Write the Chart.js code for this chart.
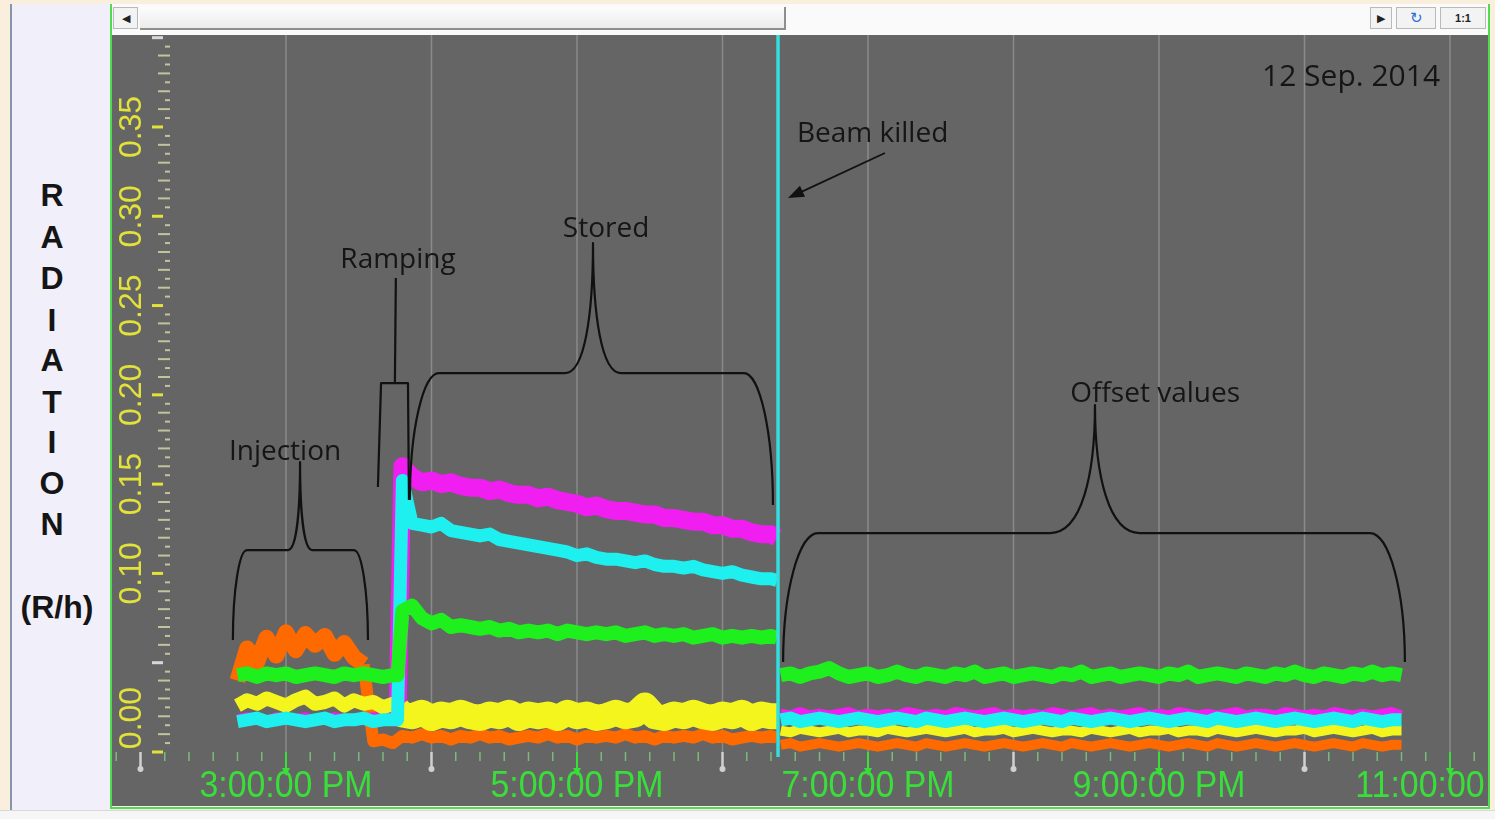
<!DOCTYPE html>
<html>
<head>
<meta charset="utf-8">
<script src="https://cdn.jsdelivr.net/npm/chart.js@4.4.1/dist/chart.umd.min.js"></script>
<style>
    html, body { margin: 0; padding: 0; }
    body { width: 1495px; height: 819px; background: #f9efdc; position: relative; overflow: hidden; font-family: "Liberation Sans", Arial, sans-serif; }
    #side { position: absolute; left: 10px; top: 4px; width: 100px; height: 808px; background: #f1effa; border-left: 2px solid #8796aa; box-sizing: border-box; }
    .letter { position: absolute; left: 12px; width: 80px; text-align: center; font-weight: bold; font-size: 32px; line-height: 32px; color: #151515; }
    #win { position: absolute; left: 110px; top: 4px; width: 1380px; height: 805px; border: 2px solid #4fdc4f; border-top: none; box-sizing: border-box; background: #fbfbfb; }
    #topbar { position: absolute; left: 0; top: 0; width: 1376px; height: 31px; background: #fafafa; }
    .btn { position: absolute; top: 3px; height: 22px; border: 1px solid #b9b9b9; background: #f3f3f3; box-sizing: border-box; font-size: 11px; line-height: 20px; text-align: center; color: #222; }
    #thumb { position: absolute; left: 28px; top: 3px; width: 646px; height: 23px; background: linear-gradient(#fdfdfd, #ebebeb); border-bottom: 2px solid #8e8e8e; border-right: 2px solid #8e8e8e; box-sizing: border-box; }
    #chart { position: absolute; left: 0; top: 31px; }
    #bottom { position: absolute; left: 0; top: 810px; width: 1495px; height: 9px; background: #f6f6f6; border-top: 1px solid #d8d8d8; }
</style>
</head>
<body>
<div id="side"></div>
<div class="letter" style="top:179px">R</div>
<div class="letter" style="top:221px">A</div>
<div class="letter" style="top:262px">D</div>
<div class="letter" style="top:304px">I</div>
<div class="letter" style="top:344px">A</div>
<div class="letter" style="top:386px">T</div>
<div class="letter" style="top:426px">I</div>
<div class="letter" style="top:467px">O</div>
<div class="letter" style="top:508px">N</div>
<div class="letter" style="top:591px; left:12px; width:90px">(R/h)</div>

<div id="win">
    <div id="topbar">
        <div class="btn" style="left:1px; width:25px">&#9664;</div>
        <div id="thumb"></div>
        <div class="btn" style="left:1258px; width:22px">&#9654;</div>
        <div class="btn" style="left:1284px; width:40px; color:#2a6fd6; font-size:15px">&#8635;</div>
        <div class="btn" style="left:1328px; width:46px; font-weight:bold">1:1</div>
    </div>
    <canvas id="chart" width="1376" height="771"></canvas>
</div>
<div id="bottom"></div>

<script>
// sample times, minutes after 12:00 noon (14:40 .. 22:40); 383 is the gap at the beam kill
const sampleMinutes = [
    160, 164, 168, 172, 176, 180, 184, 188, 192, 196, 200, 204, 208, 212, 216, 220, 224,
    226,
    228, 232, 236, 240, 244, 248, 252, 256, 260, 264, 268, 272, 276, 280, 284, 288, 292, 296, 300,
    304, 308, 312, 316, 320, 324, 328, 332, 336, 340, 344, 348, 352, 356, 360, 364, 368, 372, 376, 380,
    382.5, 383,
    384, 388, 392, 396, 400, 404, 408, 412, 416, 420, 424, 428, 432, 436, 440, 444, 448, 452, 456, 460,
    464, 468, 472, 476, 480, 484, 488, 492, 496, 500, 504, 508, 512, 516, 520, 524, 528, 532, 536, 540,
    544, 548, 552, 556, 560, 564, 568, 572, 576, 580, 584, 588, 592, 596, 600, 604, 608, 612, 616, 620,
    624, 628, 632, 636, 640
];

// radiation, R/h
const greenValues = [
    0.043, 0.044, 0.042, 0.044, 0.043, 0.044, 0.042, 0.043, 0.044, 0.043, 0.042, 0.044, 0.043, 0.044, 0.043, 0.042, 0.043,
    0.043,
    0.079, 0.082, 0.075, 0.072, 0.074, 0.070, 0.071, 0.070, 0.069, 0.070, 0.068, 0.069, 0.067, 0.068, 0.067, 0.068, 0.066, 0.068, 0.067,
    0.066, 0.067, 0.066, 0.067, 0.065, 0.066, 0.067, 0.065, 0.066, 0.065, 0.066, 0.064, 0.065, 0.066, 0.064, 0.065, 0.064, 0.065, 0.064, 0.065,
    0.064, null,
    0.043, 0.044, 0.042, 0.044, 0.045, 0.047, 0.044, 0.042, 0.043, 0.044, 0.042, 0.043, 0.045, 0.043, 0.042, 0.044, 0.043, 0.042, 0.044, 0.043,
    0.045, 0.042, 0.043, 0.044, 0.042, 0.043, 0.044, 0.043, 0.042, 0.044, 0.043, 0.045, 0.042, 0.043, 0.044, 0.042, 0.043, 0.044, 0.043, 0.042,
    0.044, 0.043, 0.045, 0.042, 0.043, 0.044, 0.043, 0.042, 0.044, 0.043, 0.042, 0.044, 0.043, 0.045, 0.043, 0.042, 0.044, 0.043, 0.042, 0.044,
    0.043, 0.045, 0.043, 0.044, 0.043
];
const cyanValues = [
    0.017, 0.018, 0.019, 0.017, 0.018, 0.019, 0.018, 0.017, 0.018, 0.019, 0.017, 0.018, 0.018, 0.019, 0.017, 0.018, 0.018,
    0.018,
    0.152, 0.128, 0.127, 0.126, 0.128, 0.124, 0.123, 0.122, 0.121, 0.122, 0.119, 0.118, 0.117, 0.116, 0.115, 0.114, 0.113, 0.112, 0.110,
    0.111, 0.109, 0.108, 0.108, 0.107, 0.106, 0.107, 0.105, 0.104, 0.104, 0.103, 0.104, 0.102, 0.101, 0.100, 0.101, 0.099, 0.098, 0.097, 0.097,
    0.096, null,
    0.018, 0.019, 0.017, 0.018, 0.019, 0.018, 0.017, 0.018, 0.019, 0.018, 0.017, 0.018, 0.019, 0.018, 0.017, 0.019, 0.018, 0.017, 0.018, 0.019,
    0.018, 0.017, 0.018, 0.019, 0.018, 0.017, 0.018, 0.019, 0.018, 0.017, 0.019, 0.018, 0.017, 0.018, 0.019, 0.018, 0.017, 0.018, 0.019, 0.018,
    0.017, 0.018, 0.019, 0.018, 0.017, 0.019, 0.018, 0.017, 0.018, 0.019, 0.018, 0.017, 0.018, 0.019, 0.018, 0.017, 0.018, 0.019, 0.018, 0.017,
    0.019, 0.018, 0.017, 0.018, 0.018
];
const magentaValues = [
    0.019, 0.020, 0.019, 0.018, 0.020, 0.019, 0.019, 0.020, 0.018, 0.019, 0.020, 0.019, 0.018, 0.019, 0.020, 0.019, 0.019,
    0.019,
    0.160, 0.154, 0.151, 0.152, 0.150, 0.151, 0.149, 0.148, 0.148, 0.146, 0.147, 0.145, 0.144, 0.144, 0.142, 0.143, 0.141, 0.140, 0.139,
    0.137, 0.138, 0.136, 0.135, 0.135, 0.134, 0.133, 0.133, 0.131, 0.131, 0.130, 0.129, 0.129, 0.127, 0.127, 0.125, 0.125, 0.123, 0.122, 0.122,
    0.120, null,
    0.022, 0.021, 0.023, 0.021, 0.022, 0.021, 0.022, 0.023, 0.021, 0.022, 0.021, 0.022, 0.021, 0.023, 0.022, 0.021, 0.022, 0.021, 0.023, 0.022,
    0.021, 0.022, 0.023, 0.021, 0.022, 0.021, 0.022, 0.021, 0.023, 0.022, 0.021, 0.022, 0.023, 0.021, 0.022, 0.021, 0.022, 0.023, 0.021, 0.022,
    0.021, 0.023, 0.022, 0.021, 0.022, 0.021, 0.022, 0.023, 0.021, 0.022, 0.022, 0.021, 0.023, 0.022, 0.021, 0.022, 0.021, 0.023, 0.022, 0.021,
    0.022, 0.021, 0.022, 0.023, 0.021
];
const yellowValues = [
    0.026, 0.029, 0.027, 0.030, 0.028, 0.026, 0.029, 0.031, 0.027, 0.028, 0.030, 0.026, 0.029, 0.027, 0.028, 0.025, 0.027,
    0.024,
    0.021, 0.020, 0.022, 0.019, 0.021, 0.020, 0.022, 0.020, 0.019, 0.021, 0.020, 0.022, 0.019, 0.021, 0.020, 0.021, 0.019, 0.022, 0.020,
    0.021, 0.019, 0.020, 0.022, 0.020, 0.021, 0.026, 0.020, 0.019, 0.021, 0.020, 0.022, 0.020, 0.019, 0.021, 0.020, 0.022, 0.019, 0.021, 0.020,
    0.020, null,
    0.012, 0.011, 0.013, 0.012, 0.011, 0.012, 0.013, 0.011, 0.012, 0.012, 0.011, 0.013, 0.012, 0.011, 0.012, 0.013, 0.012, 0.011, 0.012, 0.013,
    0.011, 0.012, 0.012, 0.013, 0.011, 0.012, 0.013, 0.012, 0.011, 0.012, 0.012, 0.011, 0.013, 0.012, 0.011, 0.012, 0.013, 0.011, 0.012, 0.012,
    0.013, 0.011, 0.012, 0.012, 0.011, 0.013, 0.012, 0.011, 0.012, 0.013, 0.012, 0.011, 0.012, 0.012, 0.013, 0.011, 0.012, 0.013, 0.012, 0.011,
    0.012, 0.013, 0.011, 0.012, 0.012
];
const orangeValues = [
    0.040, 0.058, 0.050, 0.064, 0.054, 0.067, 0.057, 0.066, 0.060, 0.065, 0.055, 0.061, 0.053, 0.049, 0.006, 0.007, 0.005,
    0.007,
    0.009, 0.008, 0.010, 0.008, 0.009, 0.007, 0.009, 0.008, 0.010, 0.008, 0.009, 0.007, 0.008, 0.009, 0.008, 0.010, 0.008, 0.009, 0.007,
    0.009, 0.008, 0.009, 0.008, 0.010, 0.008, 0.009, 0.007, 0.009, 0.008, 0.009, 0.008, 0.010, 0.008, 0.009, 0.007, 0.008, 0.009, 0.008, 0.009,
    0.008, null,
    0.004, 0.005, 0.003, 0.004, 0.005, 0.004, 0.003, 0.004, 0.005, 0.004, 0.003, 0.004, 0.005, 0.004, 0.003, 0.005, 0.004, 0.003, 0.004, 0.005,
    0.004, 0.003, 0.004, 0.005, 0.004, 0.003, 0.004, 0.005, 0.004, 0.003, 0.005, 0.004, 0.003, 0.004, 0.005, 0.004, 0.003, 0.004, 0.005, 0.004,
    0.003, 0.004, 0.005, 0.004, 0.003, 0.005, 0.004, 0.003, 0.004, 0.005, 0.004, 0.003, 0.004, 0.005, 0.004, 0.003, 0.004, 0.005, 0.004, 0.003,
    0.005, 0.004, 0.003, 0.004, 0.004
];

const cursorMinute = 382.9; // beam killed
const xRange = [108.25, 675.67];
const yRange = [-0.0028, 0.4015];
const xTickHours = [15, 17, 19, 21, 23];
const xTickLabels = ['3:00:00 PM', '5:00:00 PM', '7:00:00 PM', '9:00:00 PM', '11:00:00 PM'];
const yTickValues = [0, 0.10, 0.15, 0.20, 0.25, 0.30, 0.35];
const yTickLabels = ['0.00', '0.10', '0.15', '0.20', '0.25', '0.30', '0.35'];

// annotations, in data units (minutes, R/h)
const braces = [
    { left: 158.1, right: 213.8, mid: 185.8, bar: 0.1131, peak: 0.1624, footL: 0.0627, footR: 0.0627, arm: 5.8, cusp: 5 },
    { left: 231.1, right: 380.8, mid: 306.6, bar: 0.2122, peak: 0.2850, footL: 0.1411, footR: 0.1383, arm: 12, cusp: 11.5 },
    { left: 385.0, right: 641.4, mid: 513.6, bar: 0.1226, peak: 0.1943, footL: 0.0504, footR: 0.0504, arm: 14.4, cusp: 18.5 }
];
const rampBracket = [[217.9, 0.1484], [219.2, 0.2066], [230.3, 0.2066], [230.7, 0.1411]];
const rampStem = [[224.9, 0.2066], [225.3, 0.2654]];
const beamArrow = [[427.0, 0.3354], [387.0, 0.3102]];
const notes = [
    { text: 'Injection', x: 179.6, y: 0.168, align: 'center', size: 28 },
    { text: 'Ramping', x: 226.2, y: 0.2755, align: 'center', size: 28 },
    { text: 'Stored', x: 312.0, y: 0.2928, align: 'center', size: 28 },
    { text: 'Beam killed', x: 390.7, y: 0.346, align: 'left', size: 28 },
    { text: 'Offset values', x: 538.4, y: 0.2004, align: 'center', size: 28 },
    { text: '12 Sep. 2014', x: 655.9, y: 0.378, align: 'right', size: 30 }
];

const toPoints = (vals) => sampleMinutes.map((m, i) => ({ x: m, y: vals[i] }));

// band thickness differs between injection / stored / offset phases
const widthByPhase = (injEnd, inj, stored, post) => (ctx) => {
    const t = ctx.p1.parsed.x;
    return t <= injEnd ? inj : t <= 383 ? stored : post;
};

const trendAxes = {
    id: 'trendAxes',
    beforeDraw(chart) {
        const { ctx, chartArea, scales: { x, y } } = chart;
        ctx.save();
        ctx.fillStyle = '#656565';
        ctx.fillRect(0, 0, chart.width, chart.height);

        // hourly grid
        ctx.strokeStyle = '#8a8a8a';
        ctx.lineWidth = 1.5;
        for (let h = 15; h <= 23; h++) {
            const px = x.getPixelForValue((h - 12) * 60);
            ctx.beginPath();
            ctx.moveTo(px, chartArea.top);
            ctx.lineTo(px, chartArea.bottom - 4);
            ctx.stroke();
        }

        // y ticks
        for (let k = 0; k <= 80; k++) {
            const py = y.getPixelForValue(k * 0.005);
            ctx.beginPath();
            if (k % 10 === 0) {
                const labelled = yTickValues.some(v => Math.abs(v - k * 0.005) < 1e-6);
                ctx.strokeStyle = labelled ? '#e2e23a' : '#d8d8d8';
                ctx.lineWidth = 3;
                ctx.moveTo(40, py);
                ctx.lineTo(51, py);
            } else {
                ctx.strokeStyle = '#c4c49a';
                ctx.lineWidth = 2;
                ctx.moveTo(k % 2 === 0 ? 46 : 53, py);
                ctx.lineTo(58, py);
            }
            ctx.stroke();
        }

        ctx.fillStyle = '#e2e23a';
        ctx.font = '32px "Liberation Sans", Arial, sans-serif';
        ctx.textAlign = 'center';
        ctx.textBaseline = 'middle';
        yTickValues.forEach((v, i) => {
            const py = Math.min(y.getPixelForValue(v), chartArea.bottom - 39);
            ctx.save();
            ctx.translate(20, py);
            ctx.rotate(-Math.PI / 2);
            ctx.fillText(yTickLabels[i], 0, 0);
            ctx.restore();
        });
        ctx.restore();
    },
    afterDatasetsDraw(chart) {
        const { ctx, scales: { x, y } } = chart;
        const P = (t, v) => [x.getPixelForValue(t), y.getPixelForValue(v)];
        const pxPerMin = x.getPixelForValue(1) - x.getPixelForValue(0);
        ctx.save();
        ctx.strokeStyle = '#111';
        ctx.fillStyle = '#111';
        ctx.lineWidth = 2.2;
        ctx.lineJoin = 'round';

        braces.forEach(b => {
            const [xl, yl] = P(b.left, b.footL);
            const [xr, yr] = P(b.right, b.footR);
            const [xm, yb] = P(b.mid, b.bar);
            const yp = y.getPixelForValue(b.peak);
            const arm = b.arm * pxPerMin;
            const cusp = b.cusp * pxPerMin;
            ctx.beginPath();
            ctx.moveTo(xl, yl);
            ctx.bezierCurveTo(xl, yb + (yl - yb) * 0.45, xl + arm * 0.45, yb, xl + arm, yb);
            ctx.lineTo(xm - cusp, yb);
            ctx.bezierCurveTo(xm - cusp * 0.3, yb, xm, yb - (yb - yp) * 0.45, xm, yp);
            ctx.bezierCurveTo(xm, yb - (yb - yp) * 0.45, xm + cusp * 0.3, yb, xm + cusp, yb);
            ctx.lineTo(xr - arm, yb);
            ctx.bezierCurveTo(xr - arm * 0.45, yb, xr, yb + (yr - yb) * 0.45, xr, yr);
            ctx.stroke();
        });

        ctx.beginPath();
        rampBracket.forEach(([t, v], i) => {
            const [px, py] = P(t, v);
            i === 0 ? ctx.moveTo(px, py) : ctx.lineTo(px, py);
        });
        ctx.stroke();
        ctx.beginPath();
        ctx.moveTo(...P(...rampStem[0]));
        ctx.lineTo(...P(...rampStem[1]));
        ctx.stroke();

        // arrow to the beam kill
        const [ax0, ay0] = P(...beamArrow[0]);
        const [ax1, ay1] = P(...beamArrow[1]);
        const ang = Math.atan2(ay1 - ay0, ax1 - ax0);
        ctx.lineWidth = 1.8;
        ctx.beginPath();
        ctx.moveTo(ax0, ay0);
        ctx.lineTo(ax1 - 10 * Math.cos(ang), ay1 - 10 * Math.sin(ang));
        ctx.stroke();
        ctx.beginPath();
        ctx.moveTo(ax1, ay1);
        ctx.lineTo(ax1 - 16 * Math.cos(ang) + 6 * Math.sin(ang), ay1 - 16 * Math.sin(ang) - 6 * Math.cos(ang));
        ctx.lineTo(ax1 - 16 * Math.cos(ang) - 6 * Math.sin(ang), ay1 - 16 * Math.sin(ang) + 6 * Math.cos(ang));
        ctx.closePath();
        ctx.fill();

        ctx.fillStyle = '#151515';
        ctx.textBaseline = 'middle';
        notes.forEach(n => {
            ctx.font = `${n.size}px "Open Sans", "Noto Sans", sans-serif`;
            ctx.textAlign = n.align;
            ctx.fillText(n.text, ...P(n.x, n.y));
        });
        ctx.restore();
    },
    afterDraw(chart) {
        const { ctx, chartArea, scales: { x } } = chart;
        const base = chartArea.bottom - 5;
        ctx.save();
        // minor time ticks every 10 min
        ctx.strokeStyle = 'rgba(130, 215, 130, 0.75)';
        ctx.lineWidth = 1.5;
        for (let m = 110; m <= 670; m += 10) {
            if (m % 60 === 0) continue;
            const px = x.getPixelForValue(m);
            ctx.beginPath();
            ctx.moveTo(px, base);
            ctx.lineTo(px, base + 9);
            ctx.stroke();
        }
        for (let h = 14; h <= 23; h++) {
            const px = x.getPixelForValue((h - 12) * 60);
            if (h % 2 === 1) {
                ctx.strokeStyle = '#3ade3a';
                ctx.fillStyle = '#3ade3a';
                ctx.lineWidth = 2;
                ctx.beginPath();
                ctx.moveTo(px, base);
                ctx.lineTo(px, base + 20);
                ctx.stroke();
                ctx.beginPath();
                ctx.moveTo(px - 4, base + 16);
                ctx.lineTo(px + 4, base + 16);
                ctx.lineTo(px, base + 24);
                ctx.closePath();
                ctx.fill();
            } else {
                ctx.strokeStyle = '#d0d0d0';
                ctx.fillStyle = '#d0d0d0';
                ctx.lineWidth = 2.5;
                ctx.beginPath();
                ctx.moveTo(px, base);
                ctx.lineTo(px, base + 16);
                ctx.stroke();
                ctx.beginPath();
                ctx.arc(px, base + 17, 3, 0, Math.PI * 2);
                ctx.fill();
            }
        }

        ctx.fillStyle = '#3ade3a';
        ctx.font = '36px "Liberation Sans", Arial, sans-serif';
        ctx.textAlign = 'center';
        ctx.textBaseline = 'middle';
        xTickHours.forEach((h, i) => {
            ctx.save();
            ctx.translate(x.getPixelForValue((h - 12) * 60), chartArea.bottom + 30);
            ctx.scale(0.94, 1);
            ctx.fillText(xTickLabels[i], 0, 0);
            ctx.restore();
        });
        ctx.restore();
    }
};

new Chart(document.getElementById('chart'), {
    type: 'line',
    data: {
        datasets: [{
            label: 'cursor',
            data: [{ x: cursorMinute, y: yRange[0] }, { x: cursorMinute, y: yRange[1] }],
            borderColor: '#33dede',
            borderWidth: 3.5
        }, {
            label: 'green',
            data: toPoints(greenValues),
            borderColor: '#1ef01e',
            borderWidth: 14
        }, {
            label: 'cyan',
            data: toPoints(cyanValues),
            borderColor: '#1ef0f0',
            borderWidth: 13
        }, {
            label: 'yellow',
            data: toPoints(yellowValues),
            borderColor: '#f5f51e',
            borderWidth: 12,
            segment: { borderWidth: widthByPhase(226, 14, 26, 10) }
        }, {
            label: 'magenta',
            data: toPoints(magentaValues),
            borderColor: '#f01ef0',
            borderWidth: 8,
            segment: { borderWidth: widthByPhase(226, 8, 18, 8) }
        }, {
            label: 'orange',
            data: toPoints(orangeValues),
            borderColor: '#ff6a00',
            borderWidth: 12,
            segment: { borderWidth: widthByPhase(212, 16, 12, 10) }
        }]
    },
    options: {
        responsive: false,
        animation: false,
        devicePixelRatio: 1,
        layout: { padding: { left: 0, right: 0, top: 0, bottom: 49 } },
        elements: {
            point: { radius: 0 },
            line: { tension: 0, borderJoinStyle: 'round' }
        },
        plugins: {
            legend: { display: false },
            tooltip: { enabled: false }
        },
        scales: {
            x: { type: 'linear', min: xRange[0], max: xRange[1], display: false },
            y: { min: yRange[0], max: yRange[1], display: false }
        }
    },
    plugins: [trendAxes]
});
</script>
</body>
</html>
